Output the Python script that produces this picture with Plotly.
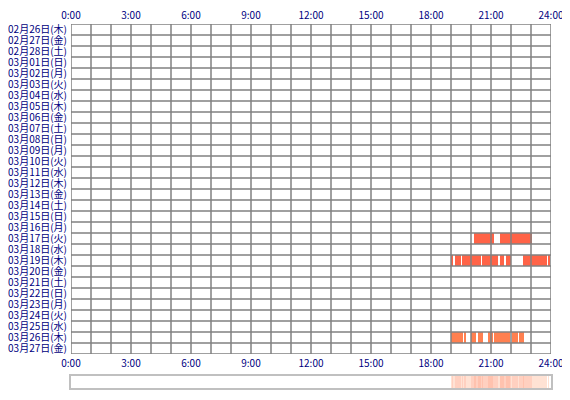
"""Access log timeline -- daily activity by hour, with summary strip."""

import numpy as np
import plotly.graph_objects as go

# -- data --
DAY_LABELS = [
    "02月26日(木)", "02月27日(金)", "02月28日(土)", "03月01日(日)", "03月02日(月)",
    "03月03日(火)", "03月04日(水)", "03月05日(木)", "03月06日(金)", "03月07日(土)",
    "03月08日(日)", "03月09日(月)", "03月10日(火)", "03月11日(水)", "03月12日(木)",
    "03月13日(金)", "03月14日(土)", "03月15日(日)", "03月16日(月)", "03月17日(火)",
    "03月18日(水)", "03月19日(木)", "03月20日(金)", "03月21日(土)", "03月22日(日)",
    "03月23日(月)", "03月24日(火)", "03月25日(水)", "03月26日(木)", "03月27日(金)",
]

HOUR_TICKS = [0, 3, 6, 9, 12, 15, 18, 21, 24]
HOUR_TEXT = ["0:00", "3:00", "6:00", "9:00", "12:00", "15:00", "18:00", "21:00", "24:00"]

# active periods (start, end) per day
ACT_0317 = [("20:08", "21:10"), ("21:28", "23:03")]
ACT_0319 = [("19:02", "19:06"), ("19:12", "19:30"), ("19:34", "20:30"), ("20:34", "20:44"),
            ("20:46", "21:20"), ("21:27", "21:40"), ("21:44", "22:00"), ("22:37", "23:48"),
            ("23:52", "23:55")]
ACT_0326 = [("19:00", "19:35"), ("19:40", "19:46"), ("20:00", "20:15"), ("20:20", "20:36"),
            ("20:50", "21:05"), ("21:08", "21:58"), ("22:04", "22:20"), ("22:24", "22:40")]

GRID = "#808080"
NAVY = "#000080"
FONT = "Noto Sans CJK JP, sans-serif"


def to_h(s):
    h, m = s.split(":")
    return int(h) + int(m) / 60


def day_bars(label, periods, color):
    row = DAY_LABELS.index(label)
    starts = [to_h(a) for a, _ in periods]
    ends = [to_h(b) for _, b in periods]
    return go.Bar(
        y=[row] * len(periods),
        x=[e - s for s, e in zip(starts, ends)],
        base=starts,
        orientation="h",
        width=1,
        marker=dict(color=color, line=dict(width=0)),
        hoverinfo="skip",
        showlegend=False,
    )


# -- figure --
fig = go.Figure()
fig.add_trace(day_bars("03月17日(火)", ACT_0317, "#ff6347"))
fig.add_trace(day_bars("03月19日(木)", ACT_0319, "#ff6347"))
fig.add_trace(day_bars("03月26日(木)", ACT_0326, "#ff8050"))

# top axis twin
fig.add_trace(go.Scatter(x=[None], y=[None], xaxis="x2", showlegend=False))

# summary strip: number of days active per minute
minutes = np.zeros(1440)
for periods in (ACT_0317, ACT_0319, ACT_0326):
    for a, b in periods:
        minutes[int(round(to_h(a) * 60)):int(round(to_h(b) * 60))] += 1
fig.add_trace(go.Heatmap(
    z=[minutes],
    x=(np.arange(1440) + 0.5) / 60,
    y=[0],
    xaxis="x3",
    yaxis="y3",
    zmin=0, zmax=3,
    colorscale=[[0, "#ffffff"], [0.33, "#ffe2d4"], [0.67, "#ffd0c0"], [1, "#ffc2ae"]],
    showscale=False,
    hoverinfo="skip",
))

n = len(DAY_LABELS)
shapes = []
for h in range(25):
    shapes.append(dict(type="line", xref="x", yref="y", x0=h, x1=h, y0=-0.5, y1=n - 0.5,
                       line=dict(color=GRID, width=1.5), layer="above"))
for i in range(n + 1):
    shapes.append(dict(type="line", xref="x", yref="y", x0=0, x1=24, y0=i - 0.5, y1=i - 0.5,
                       line=dict(color=GRID, width=1.5), layer="above"))

tick_font = dict(family=FONT, size=10, color=NAVY)
xcommon = dict(range=[0, 24], tickvals=HOUR_TICKS, ticktext=HOUR_TEXT, showgrid=False,
               zeroline=False, showline=False, ticks="", tickfont=tick_font, fixedrange=True,
               automargin=False)

# page body has an 8px margin, so the figure is a bit smaller than the window
fig.update_layout(
    width=562, height=392,
    margin=dict(l=63, r=19, t=16, b=11),
    paper_bgcolor="white",
    plot_bgcolor="white",
    barmode="overlay",
    bargap=0,
    shapes=shapes,
    xaxis=dict(**xcommon, anchor="y", side="bottom", ticklabelstandoff=2),
    xaxis2=dict(**xcommon, anchor="y", overlaying="x", side="top", ticklabelstandoff=2),
    yaxis=dict(domain=[0.0959, 1], range=[n - 0.5, -0.5], tickvals=list(range(n)),
               ticktext=DAY_LABELS, showgrid=False, zeroline=False, ticks="",
               tickfont=tick_font, ticklabelstandoff=3, fixedrange=True, automargin=False),
    xaxis3=dict(domain=[0, 1], anchor="y3", range=[0, 24], showticklabels=False, ticks="",
                showgrid=False, zeroline=False, showline=True, mirror=True,
                linecolor="#c0c0c0", linewidth=1.5, automargin=False),
    yaxis3=dict(domain=[0.0027, 0.0356], anchor="x3", range=[-0.5, 0.5], showticklabels=False,
                ticks="", showgrid=False, zeroline=False, showline=True, mirror=True,
                linecolor="#c0c0c0", linewidth=1.5, automargin=False),
)

fig.write_html("out.html")
